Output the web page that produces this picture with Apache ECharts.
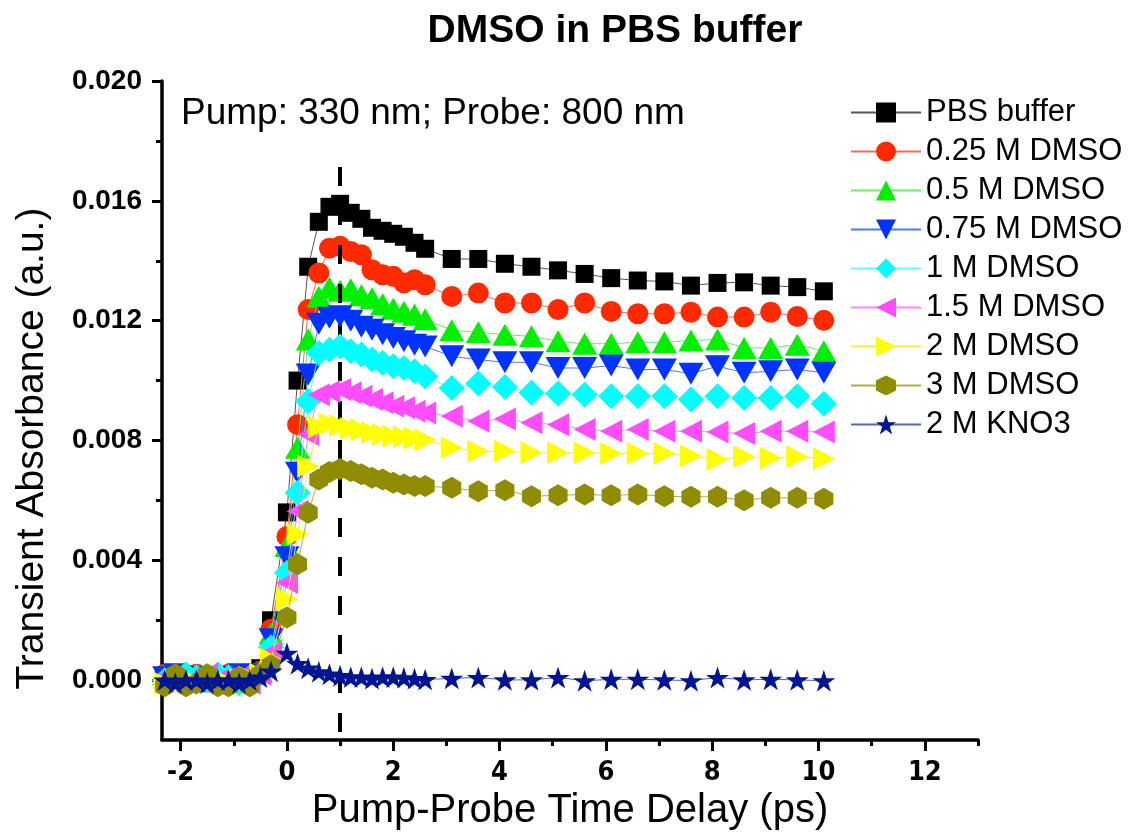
<!DOCTYPE html>
<html>
<head>
<meta charset="utf-8">
<script src="https://cdn.jsdelivr.net/npm/echarts@6/dist/echarts.min.js"></script>
<style>
  html, body { margin: 0; padding: 0; background: #fff; }
  #chart { width: 1129px; height: 836px; }
</style>
</head>
<body>
<div id="chart"></div>
<script>
// Pump-probe delay (ps)
const delays = [-2.3, -2.1, -1.9, -1.7, -1.5, -1.3, -1.1, -0.9, -0.7, -0.5,
  -0.3, 0, 0.2, 0.4, 0.6, 0.8, 1.0, 1.2, 1.4, 1.6, 1.8, 2.0, 2.2, 2.4, 2.6,
  3.1, 3.6, 4.1, 4.6, 5.1, 5.6, 6.1, 6.6, 7.1, 7.6, 8.1, 8.6, 9.1, 9.6, 10.1];

// Transient absorbance (a.u.) for each sample
const pbsBuffer = [0.0001, 0.0000, 0.0002, 0.0001, -0.0001, 0.0001, 0.0000, 0.0001, 0.0002, 0.0004,
  0.0020, 0.0056, 0.0100, 0.0138, 0.0153, 0.0158, 0.0159, 0.0156, 0.0154, 0.0151, 0.0150, 0.0149, 0.0148, 0.0146, 0.0144,
  0.01406, 0.01406, 0.0139, 0.0138, 0.01368, 0.01356, 0.01342, 0.01334, 0.01331, 0.01317, 0.01326, 0.01328, 0.01317, 0.01312, 0.01298];
const dmso025 = [0.0002, 0.0001, 0.0000, 0.0002, 0.0001, 0.0000, 0.0002, 0.0001, 0.0001, 0.0003,
  0.0017, 0.0048, 0.00853, 0.01237, 0.01359, 0.01442, 0.01448, 0.01431, 0.0142, 0.0137, 0.01353, 0.01348, 0.01326, 0.01337, 0.0132,
  0.01281, 0.01292, 0.01259, 0.01259, 0.01237, 0.01259, 0.01231, 0.01223, 0.01223, 0.01228, 0.01212, 0.01212, 0.01228, 0.01214, 0.01201];
const dmso05 = [0.0002, 0.0001, 0.0002, 0.0000, 0.0001, 0.0002, 0.0001, 0.0000, 0.0002, 0.0003,
  0.00155, 0.00448, 0.00776, 0.01137, 0.0128, 0.0131, 0.0130, 0.01305, 0.01285, 0.01275, 0.01255, 0.0124, 0.0123, 0.0122, 0.01205,
  0.01168, 0.01161, 0.01153, 0.01148, 0.01131, 0.01123, 0.01123, 0.01128, 0.01128, 0.01134, 0.01137, 0.01109, 0.01109, 0.0112, 0.01098];
const dmso075 = [0.0001, 0.0002, 0.0000, 0.0001, 0.0001, -0.0001, 0.0001, 0.0002, 0.0000, 0.0002,
  0.00137, 0.0041, 0.00692, 0.0102, 0.0119, 0.0121, 0.01215, 0.0120, 0.0118, 0.0117, 0.01155, 0.01142, 0.01131, 0.0112, 0.01114,
  0.01081, 0.0107, 0.01061, 0.01061, 0.01042, 0.01042, 0.0105, 0.01037, 0.01037, 0.01023, 0.01048, 0.01026, 0.01031, 0.01037, 0.01026];
const dmso1 = [0.0000, 0.0001, 0.0002, 0.0001, 0.0000, 0.0002, 0.0001, -0.0001, 0.0001, 0.0002,
  0.0011, 0.00359, 0.00626, 0.00931, 0.01092, 0.01103, 0.01114, 0.01098, 0.01087, 0.0107, 0.01059, 0.01048, 0.01042, 0.01031, 0.01014,
  0.00975, 0.0099, 0.00979, 0.00959, 0.00957, 0.00953, 0.00948, 0.00948, 0.00948, 0.00937, 0.00948, 0.00942, 0.00942, 0.00948, 0.00923];
const dmso15 = [0.0001, 0.0000, -0.0001, 0.0001, 0.0002, 0.0000, 0.0001, 0.0001, -0.0001, 0.0002,
  0.00092, 0.00326, 0.00564, 0.0082, 0.00953, 0.00964, 0.0097, 0.00959, 0.00948, 0.00937, 0.00926, 0.00914, 0.00909, 0.00898, 0.00892,
  0.00881, 0.00864, 0.00872, 0.00859, 0.00853, 0.00837, 0.00831, 0.00837, 0.00831, 0.00831, 0.00828, 0.00823, 0.00831, 0.00831, 0.00828];
const dmso2 = [-0.0001, 0.0000, 0.0001, -0.0001, 0.0000, 0.0001, -0.0001, 0.0000, 0.0001, 0.0002,
  0.0007, 0.0027, 0.00487, 0.00714, 0.00845, 0.00855, 0.0085, 0.0084, 0.00835, 0.00826, 0.0082, 0.00814, 0.00812, 0.00808, 0.00802,
  0.00776, 0.00764, 0.00764, 0.00759, 0.00759, 0.00759, 0.00757, 0.00757, 0.00757, 0.00748, 0.00737, 0.00746, 0.00742, 0.00746, 0.00739];
const dmso3 = [-0.0002, 0.0002, -0.0002, -0.0001, 0.0002, -0.0002, -0.0002, 0.0001, -0.0002, 0.0002,
  0.0005, 0.00209, 0.00387, 0.00559, 0.0067, 0.00695, 0.00705, 0.00698, 0.00687, 0.00676, 0.0067, 0.00659, 0.00653, 0.00648, 0.00648,
  0.00642, 0.00631, 0.00634, 0.00614, 0.00617, 0.0062, 0.00617, 0.0062, 0.00614, 0.00612, 0.00612, 0.00601, 0.00609, 0.00609, 0.00606];
const kno3 = [0.0000, -0.0001, 0.0000, 0.0000, -0.0001, 0.0000, 0.0000, -0.0001, 0.0000, 0.0001,
  0.0003, 0.0009, 0.00055, 0.0004, 0.00028, 0.0002, 0.00015, 0.0001, 0.0001, 0.00005, 0.0001, 0.0001, 0.00008, 0.00005, 0.00002,
  0.00006, 0.00009, 0.00001, 0.00001, 0.00009, -0.00002, 0.00003, 0.00003, 0.00001, -0.00002, 0.00009, 0.00001, 0.00003, 0.00001, -0.00002];

const seriesNames = ['PBS buffer', '0.25 M DMSO', '0.5 M DMSO', '0.75 M DMSO', '1 M DMSO',
  '1.5 M DMSO', '2 M DMSO', '3 M DMSO', '2 M KNO3'];
const seriesValues = [pbsBuffer, dmso025, dmso05, dmso075, dmso1, dmso15, dmso2, dmso3, kno3];

// Axis ticks
const xMajorTicks = [-2, 0, 2, 4, 6, 8, 10, 12];
const xMinorTicks = [-1, 1, 3, 5, 7, 9, 11, 13];
const yMajorTicks = [0, 0.004, 0.008, 0.012, 0.016, 0.020];
const yMinorTicks = [0.002, 0.006, 0.010, 0.014, 0.018];

// Vertical dashed guide at 1 ps, drawn from its top end down to the x axis
const guideX = 1;
const guideTop = 0.01713;
const guideBottom = -0.002;

const hexagon = 'path://M0,-1 L0.866,-0.5 L0.866,0.5 L0,1 L-0.866,0.5 L-0.866,-0.5 Z';
const star = 'path://M0,-1 L0.2245,-0.309 L0.951,-0.309 L0.363,0.118 L0.588,0.809 L0,0.382 L-0.588,0.809 L-0.363,0.118 L-0.951,-0.309 L-0.2245,-0.309 Z';

const styles = [
  { color: '#000000', line: '#555555', symbol: 'rect', size: 18, rotate: 0, keep: true },
  { color: '#ff2a00', line: '#ff6a50', symbol: 'circle', size: 21, rotate: 0, keep: true },
  { color: '#00f000', line: '#66ee66', symbol: 'triangle', size: [25, 22], rotate: 0, keep: false },
  { color: '#0033ff', line: '#5577ff', symbol: 'triangle', size: [25, 22], rotate: 180, keep: false },
  { color: '#00ffff', line: '#66ffff', symbol: 'diamond', size: 26, rotate: 0, keep: true },
  { color: '#ff4dff', line: '#ff88ff', symbol: 'triangle', size: [23, 22], rotate: 90, keep: false },
  { color: '#ffff00', line: '#eeee44', symbol: 'triangle', size: [23, 22], rotate: -90, keep: false },
  { color: '#8f8c00', line: '#b0ae40', symbol: hexagon, size: 22, rotate: 0, keep: true },
  { color: '#021591', line: '#5566bb', symbol: star, size: 23, rotate: 0, keep: true }
];

const FONT = '"Liberation Sans", Arial, sans-serif';
const NARROW = '"Liberation Sans Narrow", "Arial Narrow", "DejaVu Sans Condensed", sans-serif';

const series = seriesNames.map((name, i) => {
  const st = styles[i];
  const s = {
    name: name,
    type: 'line',
    xAxisIndex: 0,
    yAxisIndex: 0,
    data: delays.map((x, k) => [x, seriesValues[i][k]]),
    symbol: st.symbol,
    symbolSize: st.size,
    symbolRotate: st.rotate,
    symbolKeepAspect: st.keep,
    showAllSymbol: true,
    clip: false,
    itemStyle: { color: st.color, borderWidth: 0, opacity: 1 },
    lineStyle: { color: st.line, width: 1 },
    emphasis: { disabled: true },
    z: 2 + i,
    animation: false
  };
  if (i === 0) {
    s.markLine = {
      silent: true,
      symbol: 'none',
      animation: false,
      label: { show: false },
      lineStyle: { color: '#000', width: 4, type: [19, 20] },
      data: [[{ coord: [guideX, guideTop] }, { coord: [guideX, guideBottom] }]]
    };
  }
  return s;
});

const chart = echarts.init(document.getElementById('chart'), null, { renderer: 'canvas' });

chart.setOption({
  backgroundColor: '#ffffff',
  animation: false,
  title: {
    text: 'DMSO in PBS buffer',
    left: 610,
    textAlign: 'center',
    top: 7,
    textStyle: { fontFamily: FONT, fontSize: 39, fontWeight: 'bold', color: '#000' }
  },
  graphic: [{
    type: 'text',
    left: 181,
    top: 95,
    style: { text: 'Pump: 330 nm; Probe: 800 nm', font: '37px ' + FONT, fill: '#000' }
  }],
  legend: {
    orient: 'vertical',
    left: 845,
    top: 92,
    itemWidth: 70,
    itemHeight: 25,
    itemGap: 8,
    data: seriesNames,
    selectedMode: false,
    textStyle: { fontFamily: FONT, fontSize: 31, lineHeight: 31, color: '#000' }
  },
  grid: { left: 162, right: 151, top: 81, bottom: 95, containLabel: false },
  xAxis: [{
    type: 'value',
    min: -2.35,
    max: 13,
    name: 'Pump-Probe Time Delay (ps)',
    nameLocation: 'middle',
    nameGap: 49,
    nameTextStyle: { fontFamily: FONT, fontSize: 40, color: '#000' },
    axisLine: { show: true, onZero: false, lineStyle: { color: '#000', width: 3.5 } },
    axisTick: { show: true, length: 11, customValues: xMajorTicks, lineStyle: { color: '#000', width: 3 } },
    axisLabel: { customValues: xMajorTicks, margin: 19, fontFamily: NARROW, fontSize: 27, fontWeight: 'bold', color: '#000' },
    splitLine: { show: false }
  }, {
    type: 'value',
    min: -2.35,
    max: 13,
    position: 'bottom',
    axisLine: { show: false, onZero: false },
    axisTick: { show: true, length: 6, customValues: xMinorTicks, lineStyle: { color: '#000', width: 3 } },
    axisLabel: { show: false },
    splitLine: { show: false }
  }],
  yAxis: [{
    type: 'value',
    min: -0.002,
    max: 0.020,
    name: 'Transient Absorbance (a.u.)',
    nameLocation: 'middle',
    nameGap: 110,
    nameTextStyle: { fontFamily: FONT, fontSize: 39, color: '#000', padding: [0, 76, 0, 0] },
    axisLine: { show: true, onZero: false, lineStyle: { color: '#000', width: 3.5 } },
    axisTick: { show: true, length: 10, customValues: yMajorTicks, lineStyle: { color: '#000', width: 3 } },
    axisLabel: {
      customValues: yMajorTicks, margin: 20, fontFamily: FONT, fontSize: 28, fontWeight: 'bold', color: '#000',
      formatter: v => v.toFixed(3)
    },
    splitLine: { show: false }
  }, {
    type: 'value',
    min: -0.002,
    max: 0.020,
    position: 'left',
    axisLine: { show: false, onZero: false },
    axisTick: { show: true, length: 6, customValues: yMinorTicks, lineStyle: { color: '#000', width: 3 } },
    axisLabel: { show: false },
    splitLine: { show: false }
  }],
  series: series
});
</script>
</body>
</html>
